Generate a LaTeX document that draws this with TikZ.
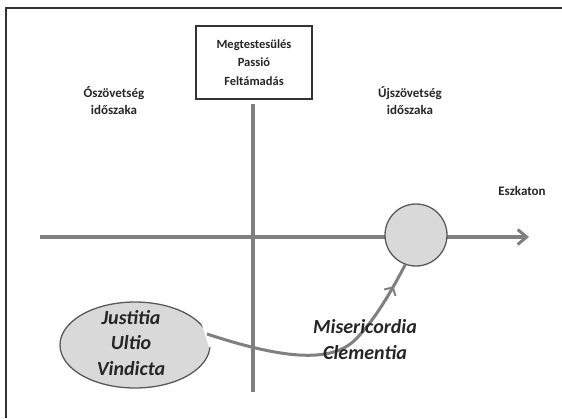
\documentclass[tikz,border=0pt]{standalone}
\usepackage{fontspec}
\setmainfont{Carlito}
\usetikzlibrary{shapes.geometric,decorations.markings,arrows.meta}
\definecolor{axisgray}{HTML}{7F7F7F}
\definecolor{fillgray}{HTML}{D9D9D9}
\definecolor{edgegray}{HTML}{595959}
\definecolor{framegray}{HTML}{333333}
\tikzset{
  lbl/.style={font=\fontsize{13}{17}\selectfont\bfseries, align=center, text=black!85},
  bigit/.style={font=\fontsize{20}{26}\selectfont\bfseries\itshape, align=center, text=black!85},
  axisline/.style={draw=axisgray, line width=4pt},
}
\begin{document}
\begin{tikzpicture}[x=1pt,y=-1pt]
\useasboundingbox (0,0) rectangle (562,418);
% frame
\draw[framegray, line width=2pt] (6,418) -- (6,8) -- (562,8);
% axes
\coordinate (hstart) at (40,237);
\coordinate (hend) at (529,237);
\coordinate (vtop) at (253,104);
\coordinate (vbot) at (253,392);
\draw[axisline] (vtop) -- (vbot);
\draw[axisline, -{Straight Barb[length=9pt,width=15pt,line width=3pt]}] (hstart) -- (hend);
% top box
\node[draw=framegray, line width=1.4pt, fill=white, minimum width=116pt, minimum height=73pt, inner sep=0pt,
      font=\fontsize{12.5}{18.5}\selectfont\bfseries, align=center, text=black!85] (box) at (254,62.5)
  {Megtestesülés\\Passió\\Feltámadás};
\node[lbl] (old) at (114,101) {Ószövetség\\időszaka};
\node[lbl] (new) at (410,101) {Újszövetség\\időszaka};
\node[lbl] (esz) at (522,191) {Eszkaton};
% circle
\node[circle, draw=edgegray, line width=1.3pt, fill=fillgray, minimum size=62pt, inner sep=0pt] (end) at (416,235) {};
% ellipse
\node[ellipse, draw=edgegray, line width=1.3pt, fill=fillgray, minimum width=150pt, minimum height=86pt, inner sep=0pt] (ell) at (135,345) {};
\fill[white] (201,322) -- (216,329) -- (216,347) -- (209,347) -- cycle;
\node[bigit, font=\fontsize{20}{25.5}\selectfont\bfseries\itshape] (jus) at (131,343) {Justitia\\Ultio\\Vindicta};
% curve
\coordinate (cstart) at (207,334);
\draw[axisgray, line width=3pt,
  postaction={decorate, decoration={markings, mark=at position 0.9 with {\arrow[line width=2pt]{Straight Barb[length=6pt,width=13pt]}}}}]
  (cstart) .. controls (280,358) and (330,364) .. (355,340) .. controls (375,320) and (392,290) .. (end.-110) ;
\node[bigit] (mis) at (365,340) {Misericordia\\Clementia};
\end{tikzpicture}
\end{document}
